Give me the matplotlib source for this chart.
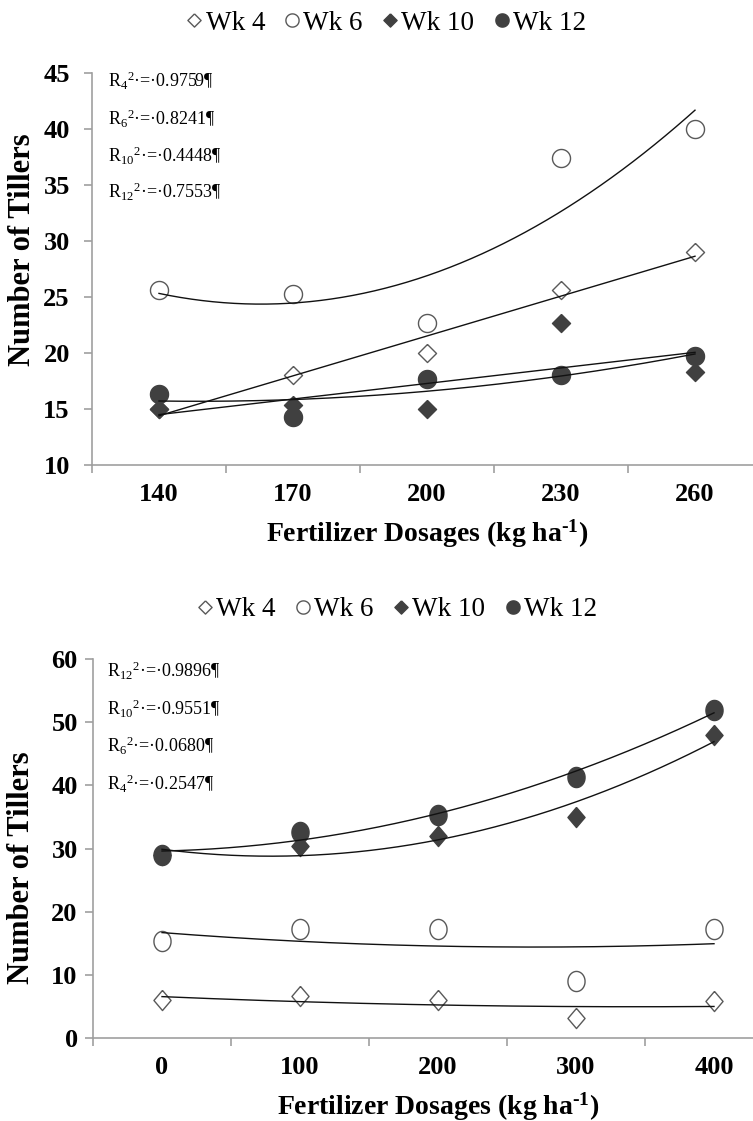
import numpy as np
import matplotlib.pyplot as plt
from matplotlib.lines import Line2D

plt.rcParams['font.family'] = ['Liberation Serif', 'DejaVu Serif']
plt.rcParams['mathtext.fontset'] = 'custom'
plt.rcParams['mathtext.rm'] = 'Liberation Serif'
plt.rcParams['mathtext.it'] = 'Liberation Serif:italic'
plt.rcParams['mathtext.bf'] = 'Liberation Serif:bold'

weeks = ['Wk 4', 'Wk 6', 'Wk 10', 'Wk 12']

# upper chart
doses_a = ['140', '170', '200', '230', '260']
wk4_a = [15.0, 18.0, 20.0, 25.6, 29.0]
wk6_a = [25.6, 25.3, 22.7, 37.4, 40.0]
wk10_a = [15.0, 15.4, 15.0, 22.7, 18.3]
wk12_a = [16.3, 14.3, 17.7, 18.0, 19.7]
fit_a = [1, 2, 1, 2]
r2_a = [('4', '0.9759'), ('6', '0.8241'), ('10', '0.4448'), ('12', '0.7553')]

# lower chart
doses_b = ['0', '100', '200', '300', '400']
wk4_b = [6.0, 6.6, 6.0, 3.1, 5.8]
wk6_b = [15.3, 17.2, 17.2, 9.0, 17.2]
wk10_b = [29.0, 30.4, 32.0, 35.0, 48.0]
wk12_b = [29.0, 32.6, 35.3, 41.3, 52.0]
fit_b = [2, 2, 2, 2]
r2_b = [('12', '0.9896'), ('10', '0.9551'), ('6', '0.0680'), ('4', '0.2547')]

DARK = '#404040'
EDGE = '#595959'
AXC = '#9f9f9f'


def marker_path(kind, aspect):
    # custom verts so the lower chart can have slightly tall markers
    if kind == 'o':
        t = np.linspace(0, 2 * np.pi, 64)
        return list(zip(aspect * np.cos(t), np.sin(t)))
    return [(0, 1), (aspect, 0), (0, -1), (-aspect, 0), (0, 1)]


def styles(aspect, ms):
    return [
        dict(marker=marker_path('D', aspect), mfc='white', mec=EDGE, ms=ms, mew=1.0),
        dict(marker=marker_path('o', aspect), mfc='white', mec=EDGE, ms=ms, mew=1.0),
        dict(marker=marker_path('D', aspect), mfc=DARK, mec=DARK, ms=ms, mew=1.0),
        dict(marker=marker_path('o', aspect), mfc=DARK, mec=DARK, ms=ms, mew=1.0),
    ]


def draw_chart(ax, cats, series, degs, ylim, ystep, aspect, ms, ypad):
    x = np.arange(len(cats))
    for ys, deg, st in zip(series, degs, styles(aspect, ms)):
        ax.plot(x, ys, ls='none', zorder=3, clip_on=False, **st)
        coef = np.polyfit(x, ys, deg)
        xs = np.linspace(0, len(cats) - 1, 200)
        ax.plot(xs, np.polyval(coef, xs), color='#111111', lw=1.0, zorder=4)

    ax.set_xlim(-0.5, len(cats) - 0.5)
    ax.set_ylim(*ylim)
    ax.set_yticks(np.arange(ylim[0], ylim[1] + 0.1, ystep))
    ax.set_xticks(np.arange(-0.5, len(cats), 1.0))
    ax.set_xticklabels([])
    ax.set_xticks(x, minor=True)
    ax.set_xticklabels(cats, minor=True)

    for s in ['top', 'right']:
        ax.spines[s].set_visible(False)
    for s in ['left', 'bottom']:
        ax.spines[s].set_color(AXC)
        ax.spines[s].set_linewidth(1.2)

    ax.tick_params(axis='x', which='major', length=6, width=1.2, color=AXC, direction='out')
    ax.tick_params(axis='x', which='minor', length=0, pad=13, labelsize=19)
    ax.tick_params(axis='y', length=6, width=1.2, color=AXC, direction='out',
                   pad=ypad, labelsize=19)
    for lab in ax.get_xticklabels(minor=True) + ax.get_yticklabels():
        lab.set_fontweight('bold')

    ax.set_xlabel('Fertilizer Dosages (kg ha$^{\\mathbf{\u2010}\\mathbf{1}}$)',
                  fontsize=20, fontweight='bold', labelpad=8)
    ax.set_ylabel('Number of Tillers', fontsize=22, fontweight='bold')


def r2_text(ax, items, x0, ys):
    for (sub, val), y in zip(items, ys):
        ax.text(x0, y, r'$\mathregular{R_{%s}{}^{2}}$·=·%s¶' % (sub, val),
                transform=ax.transAxes, fontsize=13, va='baseline', ha='left')


def add_legend(fig, cx, cy):
    handles = [Line2D([], [], ls='none', **st) for st in styles(1.0, 9.5)]
    fig.legend(handles, weeks, loc='center', bbox_to_anchor=(cx, cy), ncol=4,
               frameon=False, fontsize=19.5, handlelength=0.6, handletextpad=0.12,
               columnspacing=0.7, borderpad=0)


fig = plt.figure(figsize=(7.53, 11.21), dpi=100)

W, H = 753.0, 1121.0
ax1 = fig.add_axes([92 / W, 1 - 465 / H, 670 / W, 392 / H])
draw_chart(ax1, doses_a, [wk4_a, wk6_a, wk10_a, wk12_a], fit_a, (10, 45), 5, 1.0, 13, 10)
ax1.yaxis.set_label_coords(-0.082, 0.55)
r2_text(ax1, r2_a, 0.024, [(465 - p) / 392 for p in [87, 125, 162, 198]])

ax2 = fig.add_axes([93 / W, 1 - 1038 / H, 690 / W, 379 / H])
draw_chart(ax2, doses_b, [wk4_b, wk6_b, wk10_b, wk12_b], fit_b, (0, 60), 10, 0.85, 14.5, 5)
ax2.yaxis.set_label_coords(-0.082, 0.45)
r2_text(ax2, r2_b, 0.021, [(1038 - p) / 379 for p in [677, 715, 752, 790]])

add_legend(fig, 386 / W, 1 - 23 / H)
add_legend(fig, 397 / W, 1 - 610 / H)

fig.savefig('out.png', dpi=100)
